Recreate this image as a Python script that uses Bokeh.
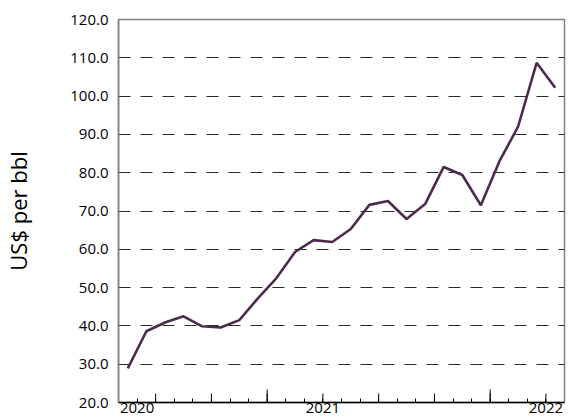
from bokeh.plotting import figure
from bokeh.models import FixedTicker, ColumnDataSource
from bokeh.embed import file_html
from bokeh.resources import INLINE

# Monthly price, US$ per bbl (24 months)
months = list(range(24))
price = [28.9, 38.6, 40.9, 42.5, 39.9, 39.6, 41.5, 47.2, 52.5, 59.3, 62.4, 61.9,
         65.3, 71.6, 72.6, 67.9, 71.8, 81.5, 79.4, 71.5, 83.0, 92.0, 108.7, 102.2]

year_labels = {0.5: "2020", 10.5: "2021", 22.5: "2022"}
y_ticks = [20, 30, 40, 50, 60, 70, 80, 90, 100, 110, 120]

FONT = "Open Sans"

p = figure(width=568, height=418, output_backend="svg", toolbar_location=None,
           x_range=(-0.5, 23.5), y_range=(20, 120),
           min_border_left=10, min_border_right=4, min_border_top=19, min_border_bottom=16)

src = ColumnDataSource(dict(x=months, y=price))
p.line("x", "y", source=src, line_color="#4B2C4C", line_width=2.6)

# axes
between = [m + 0.5 for m in months[:-1]]
p.xaxis.ticker = FixedTicker(ticks=between, minor_ticks=[])
p.xaxis.major_label_overrides = {t: year_labels.get(t, "") for t in between}
p.xaxis.major_tick_in = 4
p.xaxis.major_tick_out = 0
p.xaxis.major_tick_line_color = "black"
p.xaxis.axis_line_color = "black"
p.xaxis.axis_line_width = 1.5
p.xaxis.major_label_standoff = 0
p.xaxis.major_label_text_font = FONT
p.xaxis.major_label_text_font_size = "15px"
p.xaxis.major_label_text_color = "black"

p.yaxis.ticker = FixedTicker(ticks=y_ticks, minor_ticks=[])
p.yaxis.major_label_overrides = {t: f"{t:.1f}" for t in y_ticks}
p.yaxis.major_tick_in = 0
p.yaxis.major_tick_out = 0
p.yaxis.axis_line_color = "#808080"
p.yaxis.axis_line_width = 1.5
p.yaxis.major_label_standoff = 10
p.yaxis.major_label_text_font = FONT
p.yaxis.major_label_text_font_size = "15px"
p.yaxis.major_label_text_color = "black"
p.yaxis.axis_label = "US$ per bbl"
p.yaxis.axis_label_text_font = FONT
p.yaxis.axis_label_text_font_size = "22px"
p.yaxis.axis_label_text_font_style = "normal"
p.yaxis.axis_label_text_color = "black"
p.yaxis.axis_label_standoff = 34

# grid
p.xgrid.grid_line_color = None
p.ygrid.grid_line_color = "#2a2a2a"
p.ygrid.grid_line_dash = "12 10"
p.ygrid.grid_line_width = 1

p.outline_line_color = "#808080"
p.outline_line_width = 1.5
p.background_fill_color = "white"
p.border_fill_color = "white"

# taller ticks every quarter and tallest yearly marks
px_per_unit = 382 / 100.0
med = [t for i, t in enumerate(between) if i % 3 == 1]
tall = [t for i, t in enumerate(between) if i % 12 == 7]
p.segment(x0=med, y0=[20] * len(med), x1=med, y1=[20 + 9 / px_per_unit] * len(med),
          line_color="black", line_width=1)
p.segment(x0=tall, y0=[20] * len(tall), x1=tall, y1=[20 + 13 / px_per_unit] * len(tall),
          line_color="black", line_width=1)

open("out.html", "w").write(file_html(p, INLINE))
